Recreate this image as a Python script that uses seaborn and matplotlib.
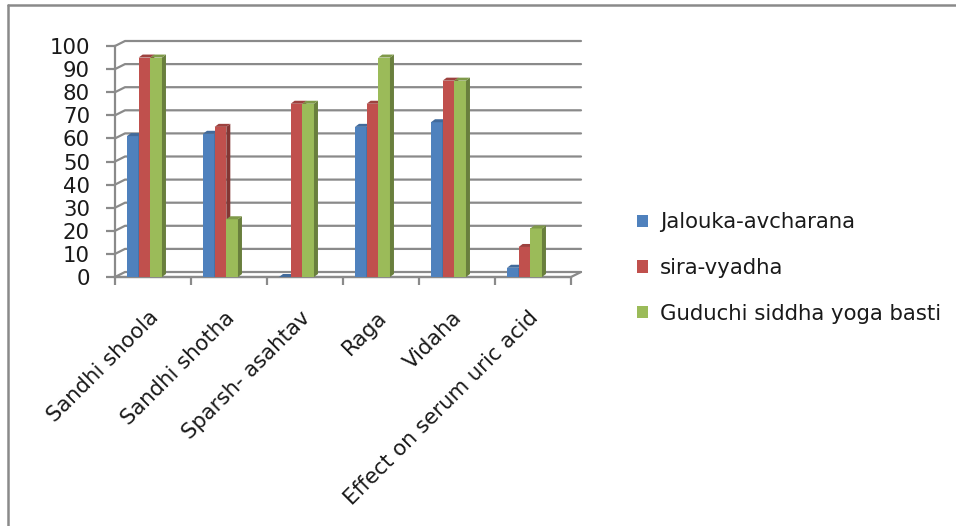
import numpy as np
import pandas as pd
import matplotlib
matplotlib.use("Agg")
import matplotlib.pyplot as plt
import seaborn as sns
from matplotlib.patches import Polygon, Patch
from matplotlib.lines import Line2D

# ---- data ----
categories = ["Sandhi shoola", "Sandhi shotha", "Sparsh- asahtav", "Raga", "Vidaha",
              "Effect on serum uric acid"]
series_names = ["Jalouka-avcharana", "sira-vyadha", "Guduchi siddha yoga basti"]
jalouka = [61, 62, 0, 65, 67, 4]
sira = [95, 65, 75, 75, 85, 13]
guduchi = [95, 25, 75, 95, 85, 21]
y_ticks = list(range(0, 101, 10))
colors = ["#4F81BD", "#C0504D", "#9BBB59"]

df = pd.DataFrame({
    "category": categories * 3,
    "series": [series_names[0]] * 6 + [series_names[1]] * 6 + [series_names[2]] * 6,
    "value": jalouka + sira + guduchi,
})

sns.set_theme(style="white")
plt.rcParams["font.family"] = ["DejaVu Sans"]
FS = 15.3
TXT = "#1a1a1a"
GRID = "#8a8a8a"

W_PX, H_PX, DPI = 956, 526, 100
fig = plt.figure(figsize=(W_PX / DPI, H_PX / DPI), dpi=DPI)

# plot area in pixels: x 115..571, y 46 (100) .. 277 (0)
ax_l, ax_r, ax_t, ax_b = 115, 571, 46, 277
ax = fig.add_axes([ax_l / W_PX, 1 - ax_b / H_PX, (ax_r - ax_l) / W_PX, (ax_b - ax_t) / H_PX])

sns.barplot(data=df, x="category", y="value", hue="series", order=categories,
            hue_order=series_names, palette=colors, width=0.46, gap=0,
            saturation=1, legend=False, errorbar=None, linewidth=0, ax=ax)

shift = 0.112
x0, x1 = -0.5 + shift, 5.5 + shift
ax.set_xlim(x0, x1)
ax.set_ylim(0, 100)

px_x = (ax_r - ax_l) / (x1 - x0)   # pixels per x unit
px_y = (ax_b - ax_t) / 100.0       # pixels per y unit

# ---- 3D-style back wall, floor and gridlines ----
wdx, wdy = 10 / px_x, 5 / px_y
for v in y_ticks:
    ax.add_line(Line2D([x0, x0 + wdx, x1 + wdx], [v, v + wdy, v + wdy],
                       color=GRID, lw=1.6, zorder=1, clip_on=False))
ax.add_line(Line2D([x0, x1, x1 + wdx], [0, 0, wdy], color=GRID, lw=1.6,
                   zorder=1, clip_on=False))

# ---- bar depth faces (side and top) ----
bdx, bdy = 4 / px_x, 3 / px_y
hue_rank = {tuple(np.round(matplotlib.colors.to_rgb(c), 3)): k for k, c in enumerate(colors)}
for p in list(ax.patches):
    rgb = np.array(p.get_facecolor()[:3])
    k = hue_rank.get(tuple(np.round(rgb, 3)), 0)
    z = 3 + k * 0.1
    bx, by = p.get_x(), p.get_y()
    bw, bh = p.get_width(), p.get_height()
    p.set_zorder(z)
    side = Polygon([(bx + bw, by), (bx + bw + bdx, by + bdy), (bx + bw + bdx, by + bh + bdy),
                    (bx + bw, by + bh)], closed=True, facecolor=rgb * 0.68, lw=0,
                   zorder=z + 0.05, clip_on=False)
    top = Polygon([(bx, by + bh), (bx + bdx, by + bh + bdy), (bx + bw + bdx, by + bh + bdy),
                   (bx + bw, by + bh)], closed=True, facecolor=rgb * 0.82, lw=0,
                  zorder=z + 0.05, clip_on=False)
    ax.add_patch(side)
    ax.add_patch(top)

# ---- axes styling ----
for s in ["top", "right"]:
    ax.spines[s].set_visible(False)
for s in ["left", "bottom"]:
    ax.spines[s].set_color(GRID)
    ax.spines[s].set_linewidth(1.6)
    ax.spines[s].set_zorder(2)

ax.set_yticks(y_ticks)
ax.set_yticklabels([str(v) for v in y_ticks])
ax.tick_params(axis="y", which="major", left=True, length=6.5, width=1.6, color=GRID,
               pad=11.5, labelsize=FS, labelcolor=TXT)

ax.set_xticks(np.arange(len(categories)) + 0.14)
ax.set_xticklabels(categories, rotation=45, ha="right", rotation_mode="anchor", va="center")
ax.set_xticks(np.arange(len(categories) + 1) - 0.5 + shift, minor=True)
ax.tick_params(axis="x", which="major", length=0, pad=27, labelsize=FS, labelcolor=TXT)
ax.tick_params(axis="x", which="minor", bottom=True, length=6, width=1.6, color=GRID,
               direction="out")
ax.set_xlabel("")
ax.set_ylabel("")
ax.grid(False)

# ---- legend ----
handles = [Patch(facecolor=c, edgecolor="none") for c in colors]
ax.legend(handles, series_names, loc="center left",
          bbox_to_anchor=(637 / W_PX, 1 - 268 / H_PX), bbox_transform=fig.transFigure,
          frameon=False, fontsize=FS, labelcolor=TXT, handlelength=0.52, handleheight=0.52,
          handletextpad=0.55, labelspacing=1.2, borderpad=0, borderaxespad=0)

# ---- outer frame ----
fx = 8 / W_PX
fy = 1 - 5 / H_PX
fig.add_artist(Line2D([fx, fx], [0, fy], transform=fig.transFigure, color=GRID, lw=1.8))
fig.add_artist(Line2D([fx, 1], [fy, fy], transform=fig.transFigure, color=GRID, lw=1.8))

fig.savefig("out.png", dpi=DPI, facecolor="white")
